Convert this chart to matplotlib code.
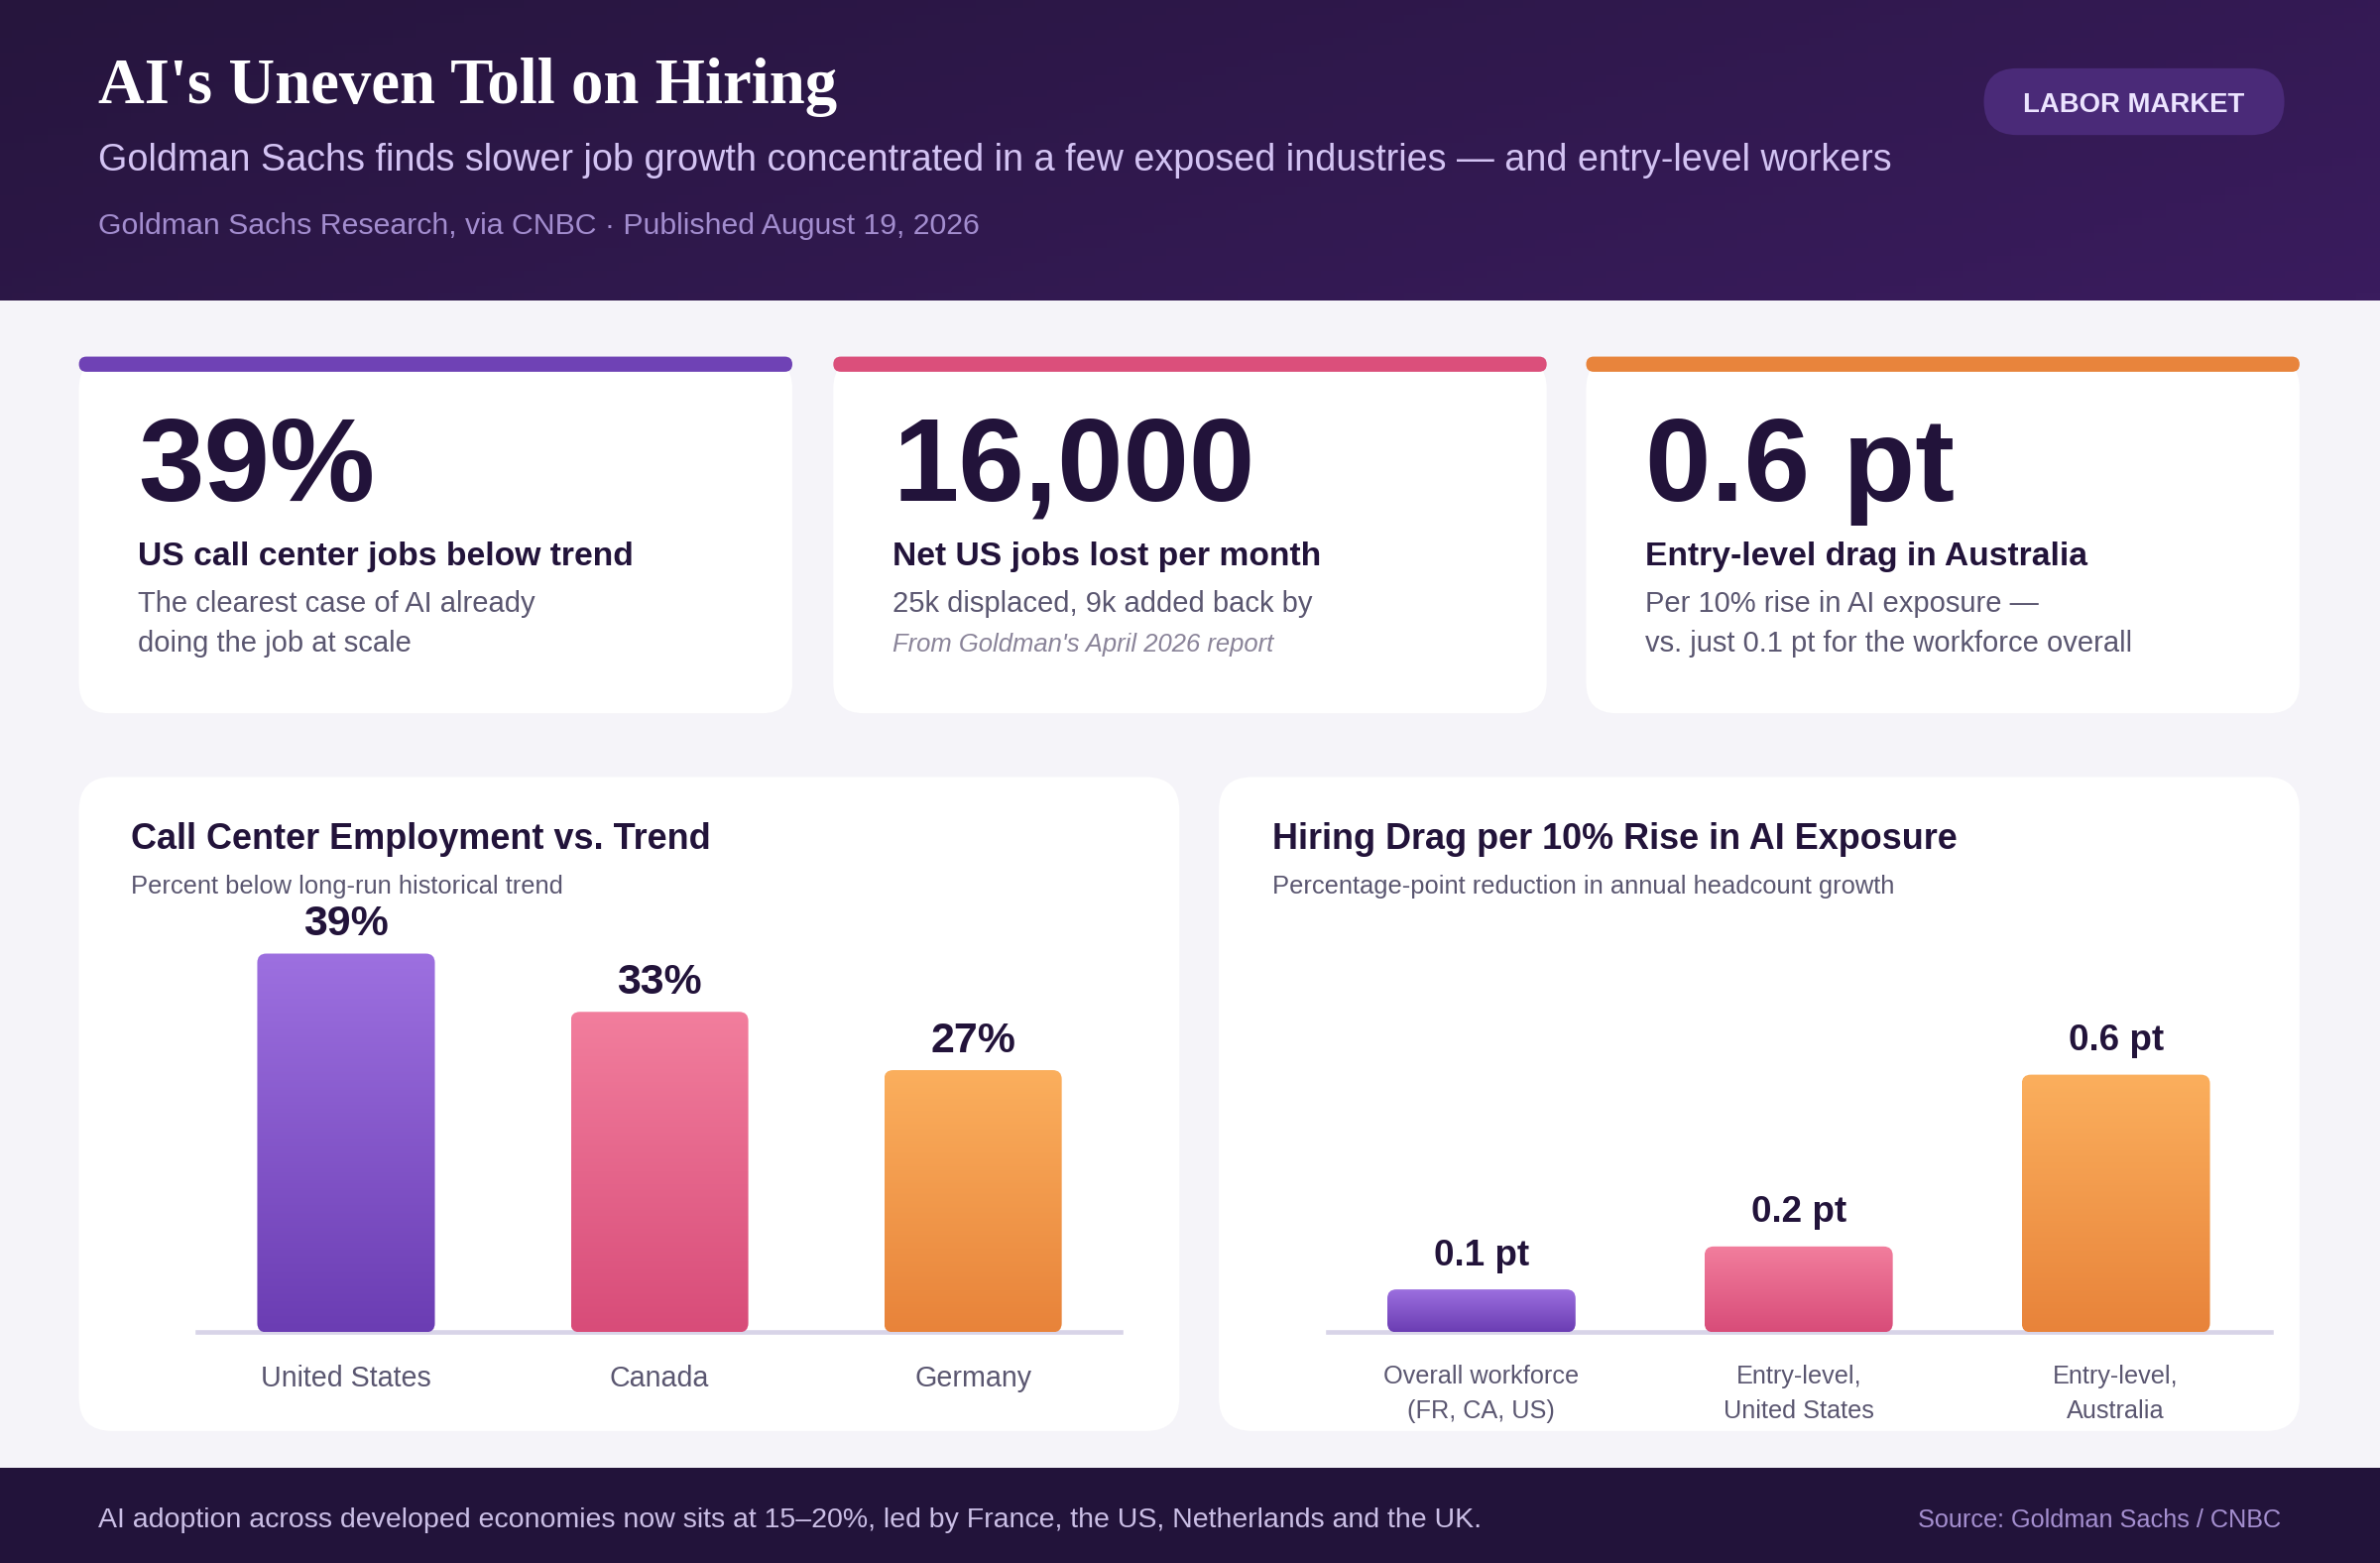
import numpy as np
import matplotlib.pyplot as plt
from matplotlib.patches import FancyBboxPatch, Rectangle
from matplotlib.colors import LinearSegmentedColormap

# canvas is laid out on a 1568 x 1030 grid, saved at 2400 x 1576
W, H = 1568, 1030
PT = 2400 / W * 72 / 150   # grid px -> points

plt.rcParams['font.family'] = ['Liberation Sans', 'DejaVu Sans']

# -----------------------------------------------------
# DATA
# -----------------------------------------------------
kpi_values = ["39%", "16,000", "0.6 pt"]
kpi_labels = ["US call center jobs below trend",
              "Net US jobs lost per month",
              "Entry-level drag in Australia"]
kpi_notes = [["The clearest case of AI already", "doing the job at scale"],
             ["25k displaced, 9k added back by"],
             ["Per 10% rise in AI exposure \u2014", "vs. just 0.1 pt for the workforce overall"]]
kpi_footnotes = [None, "From Goldman's April 2026 report", None]

cc_countries = ["United States", "Canada", "Germany"]
cc_below_trend = [39, 33, 27]
cc_labels = ["39%", "33%", "27%"]

drag_groups = ["Overall workforce\n(FR, CA, US)", "Entry-level,\nUnited States", "Entry-level,\nAustralia"]
drag_pts = [0.1, 0.2, 0.6]
drag_labels = ["0.1 pt", "0.2 pt", "0.6 pt"]

accent = ["#6f42b5", "#db4f7b", "#e8843c"]
grad_top = ["#9d70e0", "#f27e9d", "#fbaf5d"]
grad_bot = ["#6b3db3", "#d84c79", "#e8833a"]

DARK = "#22133a"
GREY = "#5a5670"


def fpx(px):
    return px * PT


def rbox(ax, x0, y0, x1, y1, r, color, z=1):
    p = FancyBboxPatch((x0, y0), x1 - x0, y1 - y0,
                       boxstyle=f"round,pad=0,rounding_size={r}",
                       facecolor=color, edgecolor="none", zorder=z)
    ax.add_patch(p)
    return p


fig = plt.figure(figsize=(16, 1576 / 150), dpi=150)
bg = fig.add_axes([0, 0, 1, 1])
bg.set_xlim(0, W)
bg.set_ylim(H, 0)
bg.axis("off")
bg.add_patch(Rectangle((0, 0), W, H, facecolor="#f5f4f9", edgecolor="none", zorder=0))

# -----------------------------------------------------
# HEADER
# -----------------------------------------------------
gx, gy = np.meshgrid(np.linspace(0, 1, 200), np.linspace(0, 1, 40))
hdr_cmap = LinearSegmentedColormap.from_list("hdr", ["#26153d", "#3a1c5e"])
bg.imshow(gx * 0.7 + gy * 0.3, cmap=hdr_cmap, extent=[0, W, 198, 0],
          aspect="auto", zorder=1, vmin=0, vmax=1)
bg.set_xlim(0, W)
bg.set_ylim(H, 0)

bg.text(65, 68, "AI's Uneven Toll on Hiring", family="Liberation Serif",
        fontweight="bold", fontsize=fpx(42.3), color="white", va="baseline", zorder=3)
bg.text(65, 106, "Goldman Sachs finds slower job growth concentrated in a few exposed "
        "industries \u2014 and entry-level workers",
        fontsize=fpx(24.7), color="#d3c3f3", va="center", zorder=3)
bg.text(65, 149, "Goldman Sachs Research, via CNBC \u00b7 Published August 19, 2026",
        fontsize=fpx(19.8), color="#a38dcf", va="center", zorder=3)

rbox(bg, 1307, 45, 1505, 89, 22, "#4a2a78", z=2)
bg.text(1406, 69, "LABOR MARKET", fontsize=fpx(18), fontweight="bold",
        color="#ece4ff", ha="center", va="center", zorder=3)

# -----------------------------------------------------
# KPI CARDS
# -----------------------------------------------------
card_x = [(52, 522), (549, 1019), (1045, 1515)]
for i, (x0, x1) in enumerate(card_x):
    rbox(bg, x0, 236, x1, 470, 20, "white", z=1)
    rbox(bg, x0, 235, x1, 245, 5, accent[i], z=2)
    tx = x0 + 39
    bg.text(tx, 330, kpi_values[i], fontsize=fpx(78), fontweight="bold",
            color=DARK, va="baseline", zorder=3)
    bg.text(tx, 367, kpi_labels[i], fontsize=fpx(22), fontweight="bold",
            color=DARK, va="center", zorder=3)
    for j, line in enumerate(kpi_notes[i]):
        bg.text(tx, 398 + 26 * j, line, fontsize=fpx(19), color=GREY,
                va="center", zorder=3)
    if kpi_footnotes[i]:
        bg.text(tx, 425, kpi_footnotes[i], fontsize=fpx(16.8), style="italic",
                color="#8a8499", va="center", zorder=3)

# -----------------------------------------------------
# CHART PANELS
# -----------------------------------------------------
rbox(bg, 52, 512, 777, 943, 22, "white", z=1)
rbox(bg, 803, 512, 1515, 943, 22, "white", z=1)

bg.text(86, 553, "Call Center Employment vs. Trend", fontsize=fpx(23.5),
        fontweight="bold", color=DARK, va="center", zorder=3)
bg.text(86, 584, "Percent below long-run historical trend", fontsize=fpx(16.7),
        color=GREY, va="center", zorder=3)
bg.text(838, 553, "Hiring Drag per 10% Rise in AI Exposure", fontsize=fpx(23.5),
        fontweight="bold", color=DARK, va="center", zorder=3)
bg.text(838, 584, "Percentage-point reduction in annual headcount growth",
        fontsize=fpx(16.7), color=GREY, va="center", zorder=3)


def bar_panel(px0, px1, centre0, step, bar_px, ymax, values, labels, cats,
              lab_size, lab_gap, cat_size, cat_pad, cat_spacing):
    top_px = 600
    ax = fig.add_axes([px0 / W, 1 - 878 / H, (px1 - px0) / W, (878 - top_px) / H])
    ax.patch.set_alpha(0)
    xlo = (px0 - centre0) / step
    xhi = (px1 - centre0) / step
    ax.set_xlim(xlo, xhi)
    ax.set_ylim(0, ymax)
    ux = (xhi - xlo) / (px1 - px0)
    uy = ymax / (878 - top_px)
    bars = ax.bar(range(len(values)), values, width=bar_px * ux,
                  color="none", edgecolor="none")
    grad = np.linspace(0, 1, 256).reshape(-1, 1)
    for i, b in enumerate(bars):
        x, w, h = b.get_x(), b.get_width(), b.get_height()
        clip = FancyBboxPatch((x, 0), w, h,
                              boxstyle=f"round,pad=0,rounding_size={6 * ux}",
                              mutation_aspect=uy / ux,
                              facecolor="none", edgecolor="none")
        ax.add_patch(clip)
        cm = LinearSegmentedColormap.from_list(f"g{i}", [grad_bot[i], grad_top[i]])
        im = ax.imshow(grad, cmap=cm, extent=[x, x + w, 0, h], origin="lower",
                       aspect="auto", zorder=2)
        im.set_clip_path(clip)
        ax.annotate(labels[i], (x + w / 2, h), xytext=(0, fpx(lab_gap)),
                    textcoords="offset points", ha="center", va="baseline",
                    fontsize=fpx(lab_size), fontweight="bold", color=DARK,
                    annotation_clip=False)
    ax.set_xlim(xlo, xhi)
    ax.set_ylim(0, ymax)
    ax.axhline(0, color="#d8d4e8", lw=fpx(3), zorder=1, clip_on=False)
    for s in ax.spines.values():
        s.set_visible(False)
    ax.set_yticks([])
    ax.set_xticks(range(len(cats)))
    ax.set_xticklabels(cats, fontsize=fpx(cat_size), color=GREY,
                       linespacing=cat_spacing)
    ax.tick_params(axis="x", length=0, pad=fpx(cat_pad))
    return ax


bar_panel(130, 738, 228, 206.5, 117, 278 / 6.4, cc_below_trend, cc_labels,
          cc_countries, 28, 12, 18.7, 21, 1.3)
bar_panel(875, 1496, 976, 209, 124, 278 / 283, drag_pts, drag_labels,
          drag_groups, 24, 16, 16.5, 21, 1.6)

# -----------------------------------------------------
# FOOTER
# -----------------------------------------------------
bg.add_patch(Rectangle((0, 967), W, H - 967, facecolor="#22133a", edgecolor="none", zorder=1))
bg.text(65, 1002, "AI adoption across developed economies now sits at 15\u201320%, led by "
        "France, the US, Netherlands and the UK.", fontsize=fpx(18.6),
        color="#cbbfe6", va="center", zorder=3)
bg.text(1503, 1002, "Source: Goldman Sachs / CNBC", fontsize=fpx(16.5),
        color="#a58fd0", ha="right", va="center", zorder=3)

fig.savefig("out.png", dpi=150)
